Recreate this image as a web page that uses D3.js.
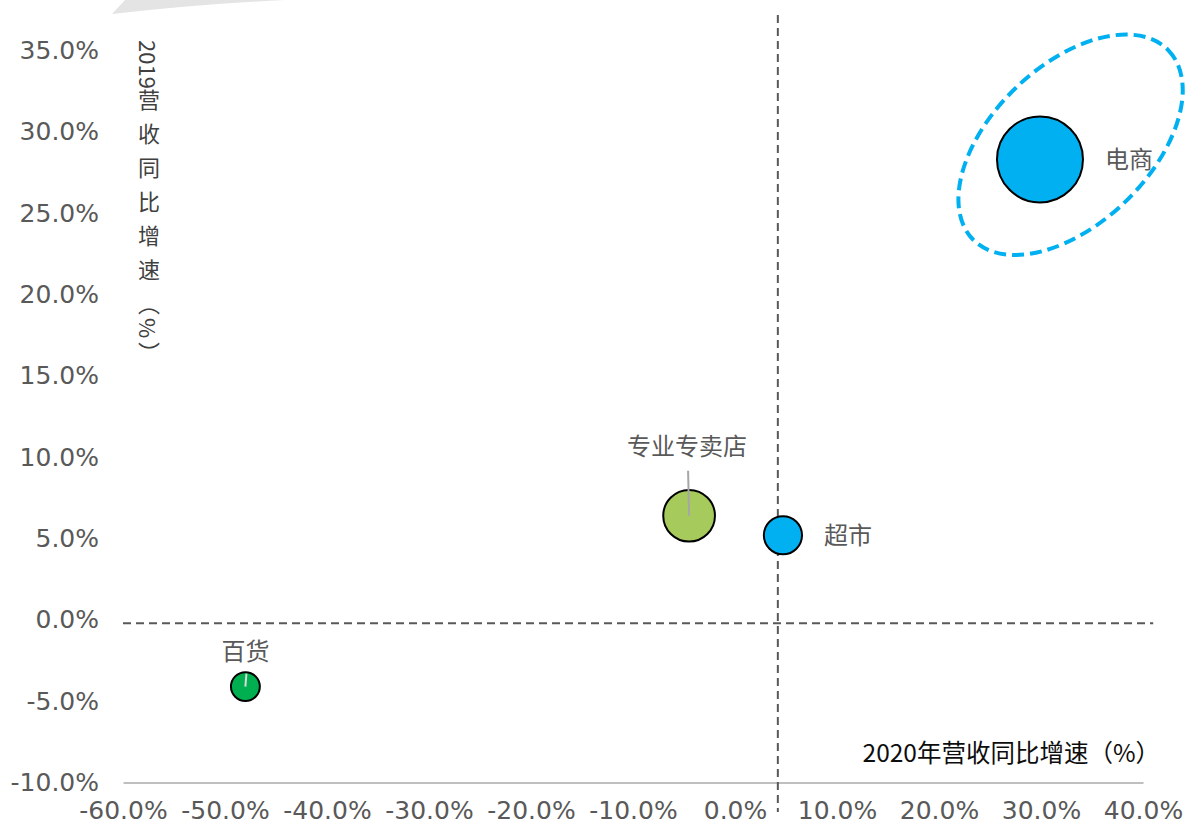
<!DOCTYPE html>
<html>
<head>
<meta charset="utf-8">
<script src="https://cdn.jsdelivr.net/npm/d3@7"></script>
<style>
  body { margin: 0; background: #fff; }
  svg { display: block; }
</style>
</head>
<body>
<svg></svg>
<script>
var viewWidth = 1186;
var viewHeight = 825;

// data
var names = ["电商", "超市", "专业专卖店", "百货"];
var growth2020 = [29.9, 4.7, -4.5, -48.0];
var growth2019 = [28.3, 5.2, 6.4, -4.1];
var sizes = [9.4, 1.85, 3.4, 1.06];
var colors = ["#00B0F0", "#00B0F0", "#A6CB5C", "#00B050"];
var xTicks = [-60, -50, -40, -30, -20, -10, 0, 10, 20, 30, 40];
var yTicks = [-10, -5, 0, 5, 10, 15, 20, 25, 30, 35];
var refX = 4.2;   // vertical dashed divider
var refY = -0.2;  // horizontal dashed divider

var margin = {top: 50.4, right: 43, bottom: 42.4, left: 123};

var svg = d3.select("svg")
    .attr("width", viewWidth)
    .attr("height", viewHeight);

var x = d3.scaleLinear()
    .domain([-60, 40])
    .range([margin.left, viewWidth - margin.right]);

var y = d3.scaleLinear()
    .domain([-10, 35])
    .range([viewHeight - margin.bottom, margin.top]);

var r = d3.scaleSqrt()
    .domain([0, d3.max(sizes)])
    .range([0, 43]);

var fmt = d3.formatLocale({decimal: ".", thousands: ",", grouping: [3], currency: ["", ""], minus: "-"}).format(".1f");
var pct = function(d) { return fmt(d) + "%"; };

// leftover grey shape at the top edge
svg.append("path")
    .attr("d", "M112,14 L125,0 L285,0 Q200,4 112,14 Z")
    .style("fill", "#E4E4E4");

// x axis
var xAxis = svg.append("g")
    .attr("transform", "translate(0," + y(-10) + ")")
    .call(d3.axisBottom(x).tickValues(xTicks).tickFormat(pct).tickSize(0).tickSizeOuter(0).tickPadding(19));
xAxis.select(".domain").style("stroke", "#BFBFBF").style("stroke-width", 2);
xAxis.selectAll("text")
    .style("font-family", "DejaVu Sans")
    .style("font-size", "25px")
    .style("fill", "#595959");

// y axis (labels only)
var yAxis = svg.append("g")
    .attr("transform", "translate(" + (margin.left - 24) + ",0)")
    .call(d3.axisLeft(y).tickValues(yTicks).tickFormat(pct).tickSize(0).tickPadding(0));
yAxis.select(".domain").remove();
yAxis.selectAll("text")
    .style("font-family", "DejaVu Sans")
    .style("font-size", "25px")
    .style("fill", "#595959");

// dashed quadrant lines
svg.append("line")
    .attr("x1", x(-60)).attr("x2", x(41))
    .attr("y1", y(refY)).attr("y2", y(refY))
    .style("stroke", "#595959")
    .style("stroke-width", 2)
    .style("stroke-dasharray", "8,5");

svg.append("line")
    .attr("x1", x(refX)).attr("x2", x(refX))
    .attr("y1", 15).attr("y2", 812)
    .style("stroke", "#595959")
    .style("stroke-width", 2)
    .style("stroke-dasharray", "8,5");

// axis titles
svg.append("text")
    .attr("x", 1160)
    .attr("y", 762)
    .style("text-anchor", "end")
    .style("font-family", "Noto Sans CJK SC")
    .style("font-size", "24.5px")
    .style("fill", "#0D0D0D")
    .text("2020年营收同比增速（%）");

var yTitle = svg.append("text")
    .attr("x", 149)
    .attr("y", 40)
    .style("writing-mode", "vertical-rl")
    .style("text-orientation", "mixed")
    .style("font-family", "Noto Sans CJK SC")
    .style("font-size", "22px")
    .style("fill", "#404040");
yTitle.append("tspan").text("2019");
yTitle.append("tspan").style("letter-spacing", "12px").text("营收同比增速");
yTitle.append("tspan").style("letter-spacing", "3px").text("（%）");

// highlight ring round 电商
svg.append("ellipse")
    .attr("cx", 0).attr("cy", 0)
    .attr("rx", 136).attr("ry", 79)
    .attr("transform", "translate(" + x(32.9) + "," + y(29.2) + ") rotate(-44)")
    .style("fill", "none")
    .style("stroke", "#00B0F0")
    .style("stroke-width", 4)
    .style("stroke-dasharray", "12,6");

// bubbles
var data = names.map(function(n, i) {
    return {name: n, gx: growth2020[i], gy: growth2019[i], size: sizes[i], color: colors[i]};
});

svg.selectAll("mybubbles")
    .data(data)
    .enter()
    .append("circle")
        .attr("cx", function(d) { return x(d.gx); })
        .attr("cy", function(d) { return y(d.gy); })
        .attr("r", function(d) { return r(d.size); })
        .style("fill", function(d) { return d.color; })
        .style("stroke", "#000")
        .style("stroke-width", 2);

// leader lines drawn over bubbles
svg.append("line")
    .attr("x1", x(growth2020[2]) - 1).attr("y1", y(growth2019[2]) - 45)
    .attr("x2", x(growth2020[2])).attr("y2", y(growth2019[2]))
    .style("stroke", "#A6A6A6").style("stroke-width", 2);
svg.append("line")
    .attr("x1", x(growth2020[3]) + 1).attr("y1", y(growth2019[3]) - 13)
    .attr("x2", x(growth2020[3])).attr("y2", y(growth2019[3]))
    .style("stroke", "#D9D9D9").style("stroke-width", 2);

// labels
var labelPos = [
    {dx: 1, dy: 0, anchor: "start", side: "right"},
    {dx: 1, dy: 0, anchor: "start", side: "right"},
    {dx: -2, dy: -69, anchor: "middle", side: "top"},
    {dx: 0, dy: -35, anchor: "middle", side: "top"}
];

svg.selectAll("mylabels")
    .data(data)
    .enter()
    .append("text")
        .attr("x", function(d, i) {
            var p = labelPos[i];
            return p.side === "right" ? x(d.gx) + r(d.size) + 22 : x(d.gx) + p.dx;
        })
        .attr("y", function(d, i) { return y(d.gy) + labelPos[i].dy; })
        .attr("dy", "0.35em")
        .style("text-anchor", function(d, i) { return labelPos[i].anchor; })
        .style("font-family", "Noto Sans CJK SC")
        .style("font-size", "24px")
        .style("fill", "#595959")
        .text(function(d) { return d.name; });
</script>
</body>
</html>
